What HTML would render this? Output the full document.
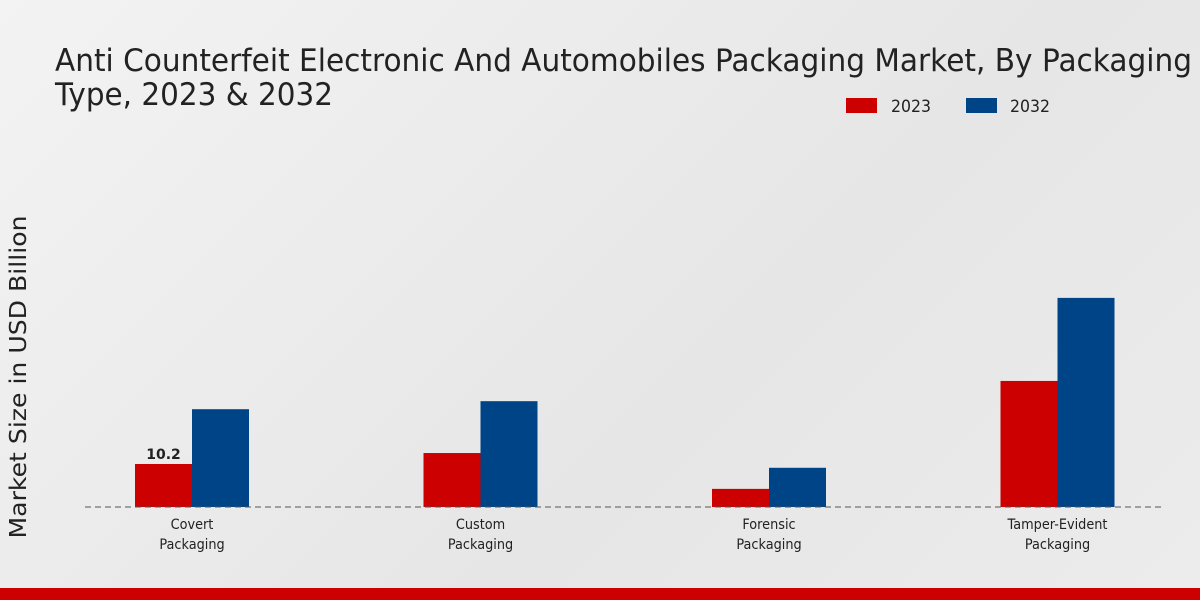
<!DOCTYPE html>
<html><head><meta charset="utf-8"><style>
html,body{margin:0;padding:0;width:1200px;height:600px;overflow:hidden}
body{background:linear-gradient(135deg,#f3f3f3 0%,#e6e6e6 60%,#ececec 100%);font-family:"DejaVu Sans","Liberation Sans",sans-serif}
</style></head><body>
<svg width="1200" height="600" xmlns="http://www.w3.org/2000/svg">
<text x="55" y="71" font-size="31" fill="#222" textLength="1137" lengthAdjust="spacingAndGlyphs">Anti Counterfeit Electronic And Automobiles Packaging Market, By Packaging</text>
<text x="55" y="105" font-size="31" fill="#222" textLength="278" lengthAdjust="spacingAndGlyphs">Type, 2023 &amp; 2032</text>
<g>
<rect x="846" y="98" width="31" height="15" fill="#cc0000"/>
<text x="891" y="112" font-size="17" fill="#222" textLength="40" lengthAdjust="spacingAndGlyphs">2023</text>
<rect x="966" y="98" width="31" height="15" fill="#004488"/>
<text x="1010" y="112" font-size="17" fill="#222" textLength="40" lengthAdjust="spacingAndGlyphs">2032</text>
</g>
<text transform="translate(26,377) rotate(-90)" font-size="23" fill="#222" text-anchor="middle" textLength="323" lengthAdjust="spacingAndGlyphs">Market Size in USD Billion</text>
<g id="bars"></g>
<line x1="85" y1="507" x2="1165" y2="507" stroke="#555" stroke-dasharray="6,4" stroke-width="1"/>
<rect x="0" y="588" width="1200" height="12" fill="#cc0000"/>
</svg>
<script>
const categories=[["Covert","Packaging"],["Custom","Packaging"],["Forensic","Packaging"],["Tamper-Evident","Packaging"]];
const values2023=[10.2,12.8,4.3,29.9];
const values2032=[23.2,25.1,9.3,49.6];
const valueLabels=["10.2","","",""];
const NS="http://www.w3.org/2000/svg";
const g=document.getElementById("bars");
const base=507,scale=4.216,x0=192,step=288.5,bw=57;
const y=v=>base-v*scale;
const xc=i=>x0+i*step;
function mk(tag,attrs){const e=document.createElementNS(NS,tag);for(const k in attrs)e.setAttribute(k,attrs[k]);g.appendChild(e);return e;}
categories.forEach((c,i)=>{
 const r1=mk("rect",{x:xc(i)-bw,y:y(values2023[i]),width:bw,height:values2023[i]*scale,fill:"#cc0000"});
 
 
 const r2=mk("rect",{x:xc(i),y:y(values2032[i]),width:bw,height:values2032[i]*scale,fill:"#004488"});
 
 
 if(valueLabels[i]){const t=mk("text",{x:xc(i)-bw/2,y:y(values2023[i])-5,"font-size":14,"font-weight":"bold","text-anchor":"middle",fill:"#222"});t.textContent=valueLabels[i];
 
 }
 c.forEach((ln,j)=>{const t=mk("text",{x:xc(i),y:529+j*20,"font-size":14,"text-anchor":"middle",fill:"#222",transform:`translate(${xc(i)} 0) scale(0.92 1) translate(${-xc(i)} 0)`});t.textContent=ln;
 
 });
});
</script>
</body></html>
